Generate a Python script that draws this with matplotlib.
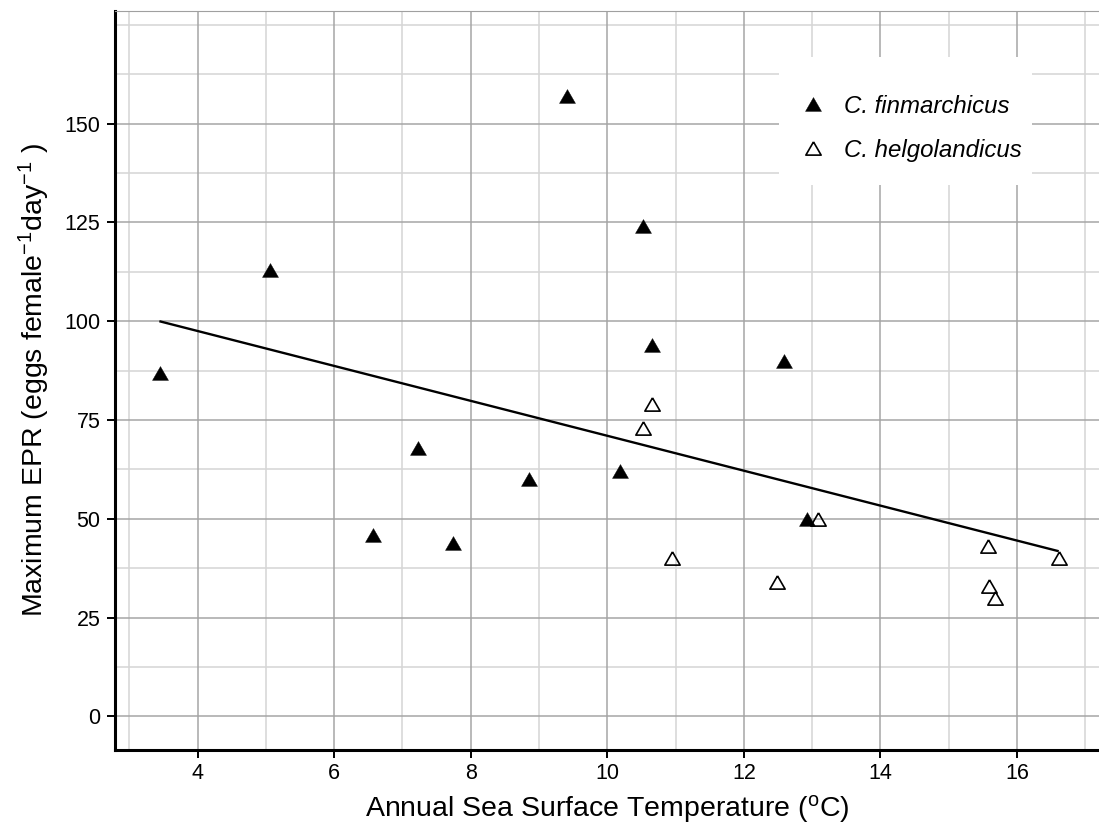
import numpy as np
import matplotlib
matplotlib.use("Agg")
import matplotlib.pyplot as plt
from matplotlib.patches import Rectangle

plt.rcParams['font.family'] = ['Liberation Sans', 'DejaVu Sans']
plt.rcParams['mathtext.default'] = 'regular'

# maximum egg production rate vs annual SST, two Calanus species
fin_sst = [3.45, 5.06, 6.57, 7.23, 7.74, 8.86, 9.41, 10.19, 10.52, 10.66, 12.59, 12.93]
fin_epr = [87, 113, 46, 68, 44, 60, 157, 62, 124, 94, 90, 50]

hel_sst = [10.52, 10.66, 10.94, 12.49, 13.09, 15.57, 15.59, 15.68, 16.61]
hel_epr = [73, 79, 40, 34, 50, 43, 33, 30, 40]

# linear fit drawn across the data range
fit_sst = [3.44, 16.61]
fit_epr = [100.0, 41.8]

x_major = [4, 6, 8, 10, 12, 14, 16]
x_minor = [3, 5, 7, 9, 11, 13, 15, 17]
y_major = [0, 25, 50, 75, 100, 125, 150]
y_minor = [12.5, 37.5, 62.5, 87.5, 112.5, 137.5, 162.5, 175]

species = ['C. finmarchicus', 'C. helgolandicus']

# equilateral triangle, centred on its bounding box
tri = [(0, 0.433), (-0.5, -0.433), (0.5, -0.433), (0, 0.433)]
filled_kw = dict(linestyle='none', marker=tri, markersize=11.5, markerfacecolor='black',
                 markeredgecolor='black', markeredgewidth=0.3)
open_kw = dict(linestyle='none', marker=tri, markersize=11.0, markerfacecolor='none',
               markeredgecolor='black', markeredgewidth=1.2)

fig = plt.figure(figsize=(10.99, 8.24), dpi=100)
ax = fig.add_axes([115/1099, 74/824, 984/1099, 739/824])

ax.set_xlim(2.79, 17.2)
ax.set_ylim(-8.5, 178.5)

for v in x_minor:
    ax.axvline(v, color='#d5d5d5', lw=1.1, zorder=0)
for v in y_minor:
    ax.axhline(v, color='#d5d5d5', lw=1.1, zorder=0)
for v in x_major:
    ax.axvline(v, color='#a5a5a5', lw=1.1, zorder=0.5)
for v in y_major:
    ax.axhline(v, color='#a5a5a5', lw=1.1, zorder=0.5)

ax.plot(fit_sst, fit_epr, color='black', lw=1.7, zorder=2, solid_capstyle='butt')

ax.plot(fin_sst, fin_epr, zorder=3, **filled_kw)
ax.plot(hel_sst, hel_epr, zorder=3, **open_kw)

ax.set_xticks(x_major)
ax.set_yticks(y_major)
ax.tick_params(axis='both', length=5.5, width=1.4, labelsize=15.5, colors='black')
ax.tick_params(axis='x', pad=4)
ax.tick_params(axis='y', pad=5)

for s in ['left', 'bottom']:
    ax.spines[s].set_linewidth(2.2)
    ax.spines[s].set_color('black')
ax.spines['right'].set_visible(False)
ax.spines['top'].set_color('#a0a0a0')
ax.spines['top'].set_linewidth(0.8)

ax.set_xlabel('Annual Sea Surface Temperature ($^{o}$C)', fontsize=20.5, labelpad=6)
ax.set_ylabel('Maximum EPR (eggs female$^{-1}$day$^{-1}$ )', fontsize=20.5, labelpad=9)

# legend inside the panel, white box without border
ax.add_patch(Rectangle((0.6748, 0.7645), 0.2571, 0.1733, transform=ax.transAxes,
                       facecolor='white', edgecolor='none', zorder=4))
ax.plot([0.7093], [0.8742], transform=ax.transAxes, zorder=5, clip_on=False, **filled_kw)
ax.plot([0.7093], [0.8146], transform=ax.transAxes, zorder=5, clip_on=False, **open_kw)
ax.text(0.7409, 0.8616, species[0], transform=ax.transAxes, fontsize=17.3,
        style='italic', va='baseline', ha='left', zorder=5)
ax.text(0.7409, 0.8020, species[1], transform=ax.transAxes, fontsize=17.3,
        style='italic', va='baseline', ha='left', zorder=5)

fig.savefig('out.png', dpi=100)
